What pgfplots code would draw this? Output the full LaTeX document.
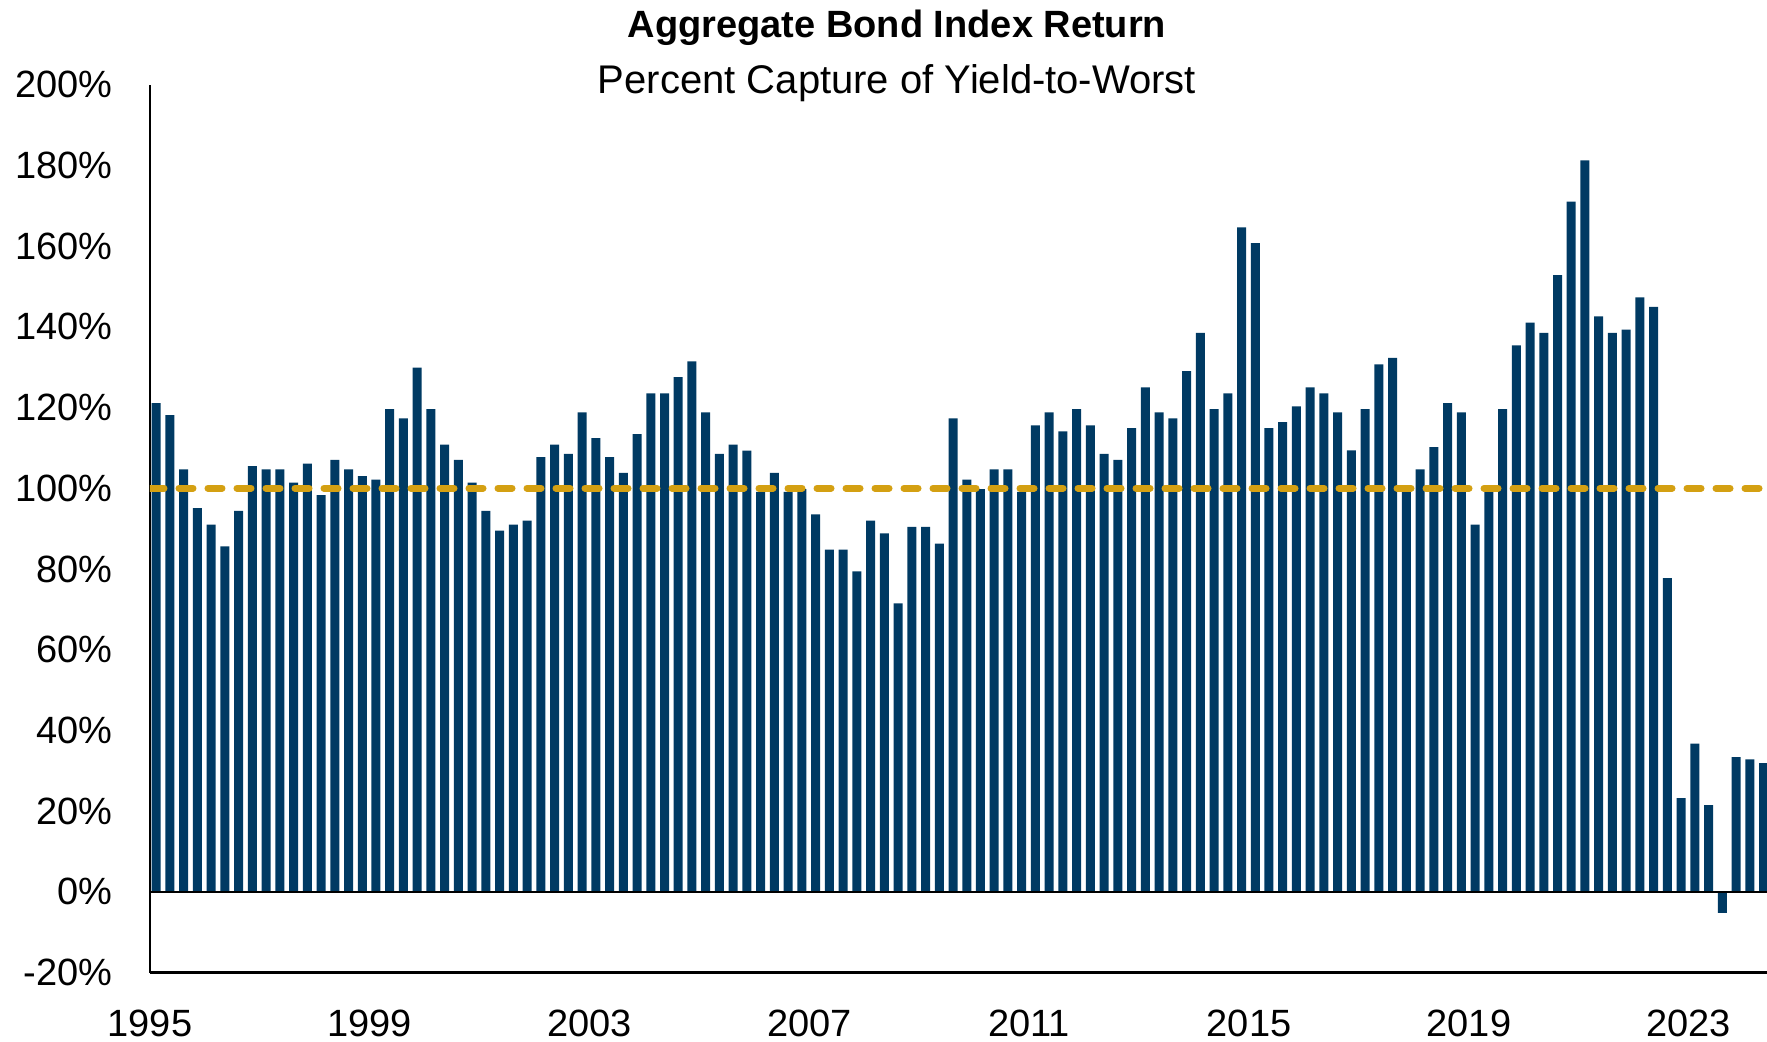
\documentclass[border=0pt]{standalone}
\usepackage{pgfplots}
\pgfplotsset{compat=1.18}
\usepackage{pgfplotstable}
\usepackage{fontspec}
\setmainfont{Liberation Sans}
\definecolor{navy}{RGB}{0,58,99}
\definecolor{gold}{RGB}{212,160,18}

\pgfplotstableread{
q v
0 121.1
1 118.1
2 104.7
3 95.1
4 91.0
5 85.6
6 94.4
7 105.5
8 104.7
9 104.7
10 101.4
11 106.1
12 98.3
13 107.0
14 104.7
15 103.0
16 102.1
17 119.6
18 117.3
19 129.9
20 119.6
21 110.8
22 107.0
23 101.4
24 94.4
25 89.5
26 91.0
27 92.0
28 107.7
29 110.8
30 108.5
31 118.8
32 112.4
33 107.7
34 103.8
35 113.4
36 123.5
37 123.5
38 127.5
39 131.4
40 118.8
41 108.5
42 110.8
43 109.3
44 99.1
45 103.8
46 99.1
47 99.8
48 93.5
49 84.8
50 84.8
51 79.4
52 92.0
53 88.8
54 71.5
55 90.4
56 90.4
57 86.3
58 117.3
59 102.1
60 99.8
61 104.7
62 104.7
63 99.1
64 115.6
65 118.8
66 114.1
67 119.6
68 115.6
69 108.5
70 107.0
71 114.9
72 125.0
73 118.8
74 117.3
75 129.0
76 138.5
77 119.6
78 123.5
79 164.6
80 160.7
81 114.9
82 116.4
83 120.3
84 125.0
85 123.5
86 118.8
87 109.4
88 119.6
89 130.7
90 132.3
91 99.1
92 104.7
93 110.2
94 121.1
95 118.8
96 91.0
97 100.6
98 119.6
99 135.4
100 141.0
101 138.5
102 152.8
103 171.0
104 181.2
105 142.6
106 138.5
107 139.3
108 147.3
109 144.9
110 77.7
111 23.2
112 36.7
113 21.5
114 -5.2
115 33.4
116 32.8
117 31.9
}\datatable

\begin{document}
\begin{tikzpicture}
\useasboundingbox (-75pt,-34.7pt) rectangle (808.5pt,486.3pt);
\begin{axis}[
  at={(0,0)}, anchor=south west,
  scale only axis, width=808.5pt, height=444pt,
  xmin=-0.45, xmax=117.25, ymin=-20, ymax=200,
  axis lines=left,
  axis line style={-, line width=1.3pt, black},
  major tick length=0pt,
  ytick={-20,0,20,40,60,80,100,120,140,160,180,200},
  yticklabels={-20\%,0\%,20\%,40\%,60\%,80\%,100\%,120\%,140\%,160\%,180\%,200\%},
  xtick={-0.45,15.55,31.55,47.55,63.55,79.55,95.55,111.55},
  xticklabels={1995,1999,2003,2007,2011,2015,2019,2023},
  ticklabel style={font=\fontsize{19}{22}\selectfont},
  yticklabel style={anchor=east, inner sep=0pt, xshift=-18.5pt},
  xticklabel style={anchor=north, inner sep=0pt, yshift=-18.7pt},
  clip=true,
]
\addplot[ybar, bar width=4.5pt, fill=navy, draw=none] table[x=q, y=v]{\datatable};
\addplot[gold, line width=3.5pt, line cap=round, dash pattern=on 7pt off 7.5pt] coordinates {(-0.45,100) (117.25,100)};
\addplot[black, line width=1.3pt] coordinates {(-0.45,0) (117.25,0)};
\end{axis}
\node[anchor=base] at (373.5pt,467.3pt) {\fontsize{19}{22}\selectfont\bfseries Aggregate Bond Index Return};
\node[anchor=base] at (373.5pt,439.3pt) {\fontsize{20}{24}\selectfont Percent Capture of Yield-to-Worst};
\end{tikzpicture}
\end{document}
